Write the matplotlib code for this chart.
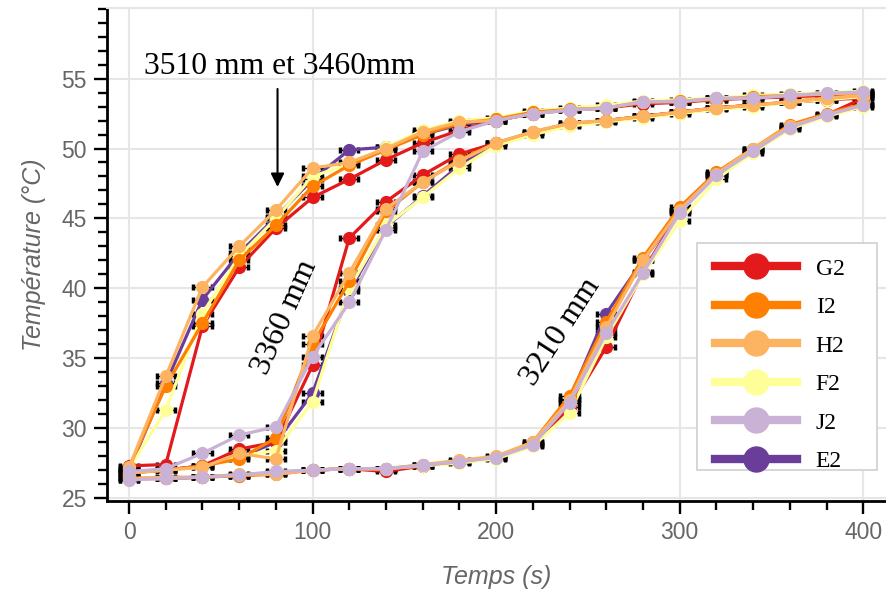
import matplotlib
matplotlib.use("Agg")
import matplotlib.pyplot as plt
from matplotlib.lines import Line2D
from matplotlib.patches import Rectangle
from matplotlib.ticker import MultipleLocator

# ---------------- data ----------------
time_s = [0, 20, 40, 60, 80, 100, 120, 140, 160, 180, 200,
          220, 240, 260, 280, 300, 320, 340, 360, 380, 400]

series_names = ["G2", "I2", "H2", "F2", "J2", "E2"]
series_colors = ["#e31a1c", "#ff7f00", "#fdb462", "#ffff99", "#cab2d6", "#6a3d9a"]

# position 3510 mm / 3460 mm
g2_3510 = [27.3, 27.4, 37.3, 41.5, 44.3, 46.5, 47.8, 49.2, 50.4, 51.3, 52.0,
           52.5, 52.8, 52.9, 53.2, 53.3, 53.5, 53.6, 53.7, 53.8, 53.9]
i2_3510 = [27.2, 33.0, 37.5, 42.0, 44.5, 47.3, 48.8, 49.9, 51.0, 51.8, 52.1,
           52.6, 52.8, 52.9, 53.3, 53.4, 53.5, 53.7, 53.8, 53.9, 54.0]
h2_3510 = [27.2, 33.7, 40.1, 43.0, 45.6, 48.6, 49.0, 50.0, 51.2, 51.9, 52.0,
           52.5, 52.75, 52.9, 53.35, 53.35, 53.6, 53.6, 53.8, 53.9, 54.0]
f2_3510 = [27.1, 31.3, 38.2, 42.3, 45.0, 48.0, 48.9, 50.1, 51.3, 52.0, 52.2,
           52.7, 52.9, 53.1, 53.4, 53.5, 53.6, 53.8, 53.9, 54.0, 54.1]
e2_3510 = [27.0, 33.2, 39.2, 42.5, 45.1, 47.8, 49.9, 50.1, 51.0, 51.7, 52.0,
           52.5, 52.75, 52.9, 53.3, 53.35, 53.6, 53.6, 53.8, 53.9, 54.0]

# position 3360 mm
g2_3360 = [26.9, 27.0, 27.3, 28.5, 29.0, 34.5, 43.6, 46.2, 48.1, 49.6, 50.4,
           51.1, 51.7, 52.0, 52.3, 52.6, 52.9, 53.1, 53.3, 53.5, 53.6]
i2_3360 = [26.8, 27.0, 27.3, 27.8, 29.3, 36.0, 40.5, 45.5, 47.6, 49.2, 50.4,
           51.2, 51.8, 52.0, 52.3, 52.6, 52.9, 53.1, 53.35, 53.6, 53.8]
h2_3360 = [26.8, 27.0, 27.2, 28.2, 27.8, 36.6, 41.1, 45.7, 47.6, 49.1, 50.4,
           51.2, 51.8, 52.0, 52.3, 52.6, 52.9, 53.1, 53.35, 53.6, 53.8]
f2_3360 = [26.8, 27.0, 27.2, 28.0, 28.4, 31.9, 40.0, 44.5, 46.5, 48.6, 50.2,
           51.0, 51.6, 51.9, 52.2, 52.5, 52.8, 53.0, 53.3, 53.5, 53.7]
j2_3360 = [26.9, 27.1, 28.2, 29.5, 30.1, 35.1, 39.0, 44.2, 49.8, 51.2, 52.0,
           52.5, 52.75, 52.9, 53.35, 53.35, 53.6, 53.6, 53.8, 53.95, 54.05]
e2_3360 = [26.8, 27.0, 27.3, 27.9, 29.0, 32.5, 39.8, 44.4, 46.6, 48.8, 50.3,
           51.1, 51.7, 52.0, 52.3, 52.6, 52.9, 53.1, 53.3, 53.5, 53.7]

# position 3210 mm
g2_3210 = [26.4, 26.4, 26.5, 26.65, 26.8, 27.0, 27.1, 26.9, 27.3, 27.6, 27.9,
           28.8, 31.5, 35.8, 41.2, 45.5, 48.1, 49.9, 51.5, 52.4, 53.6]
i2_3210 = [26.4, 26.4, 26.5, 26.6, 26.7, 27.0, 27.1, 27.1, 27.35, 27.6, 27.95,
           29.0, 32.3, 37.6, 42.2, 45.8, 48.3, 50.0, 51.7, 52.5, 53.2]
h2_3210 = [26.4, 26.5, 26.5, 26.7, 26.7, 27.0, 27.1, 27.1, 27.4, 27.7, 28.0,
           29.0, 32.0, 37.2, 42.0, 45.6, 48.2, 50.0, 51.6, 52.4, 53.1]
f2_3210 = [26.3, 26.4, 26.5, 26.6, 26.8, 27.0, 27.1, 27.1, 27.3, 27.5, 27.8,
           28.7, 31.1, 36.5, 41.0, 44.8, 47.8, 49.7, 51.4, 52.3, 53.0]
j2_3210 = [26.3, 26.4, 26.5, 26.65, 26.9, 27.0, 27.1, 27.1, 27.35, 27.6, 27.9,
           28.8, 31.8, 36.8, 41.1, 45.4, 48.1, 49.8, 51.5, 52.4, 53.1]
e2_3210 = [26.4, 26.4, 26.5, 26.6, 26.8, 27.0, 27.1, 27.1, 27.3, 27.6, 27.9,
           28.9, 32.1, 38.2, 42.0, 45.5, 48.2, 49.9, 51.6, 52.4, 53.1]

time_err = 5.0

curves = {
    "G2": [g2_3210, g2_3360, g2_3510],
    "I2": [i2_3210, i2_3360, i2_3510],
    "H2": [h2_3210, h2_3360, h2_3510],
    "F2": [f2_3210, f2_3360, f2_3510],
    "E2": [e2_3210, e2_3360, e2_3510],
    "J2": [j2_3210, j2_3360],
}
draw_order = ["E2", "G2", "F2", "I2", "H2", "J2"]
color_of = dict(zip(series_names, series_colors))

# ---------------- figure ----------------
W, H = 886, 599
fig = plt.figure(figsize=(W / 100, H / 100), dpi=100)
ax = fig.add_axes([107 / W, 98 / H, 779 / W, 493 / H])

for name in draw_order:
    for ys in curves[name]:
        ax.errorbar(time_s, ys, xerr=time_err, fmt="none", ecolor="black",
                    elinewidth=1.0, capsize=2.5, capthick=2.5, zorder=1)
for z, name in enumerate(draw_order):
    for ys in curves[name]:
        ax.plot(time_s, ys, color=color_of[name], lw=2.3, marker="o", ms=8.5,
                zorder=3 + z)

ax.set_xlim(-12, 412.4)
ax.set_ylim(24.79, 60.05)
ax.xaxis.set_major_locator(MultipleLocator(100))
ax.xaxis.set_minor_locator(MultipleLocator(20))
ax.set_yticks([25, 30, 35, 40, 45, 50, 55])
ax.yaxis.set_minor_locator(MultipleLocator(1))

ax.grid(True, which="major", color="#e6e6e6", lw=1.5, zorder=0)
ax.set_axisbelow(True)
ax.spines["right"].set_visible(False)
ax.spines["top"].set_color("#e6e6e6")
ax.spines["top"].set_linewidth(1.5)
for s in ["left", "bottom"]:
    ax.spines[s].set_linewidth(2.0)
    ax.spines[s].set_color("black")

ax.tick_params(which="major", direction="out", length=9.5, width=1.7,
               color="black", labelsize=16.5, labelcolor="#666666", pad=5)
ax.tick_params(which="minor", direction="out", length=6.5, width=1.7, color="black")
for lab in ax.get_xticklabels() + ax.get_yticklabels():
    lab.set_fontfamily("Liberation Sans")

ax.set_xlabel("Temps (s)", fontsize=18, color="#666666", style="italic",
              family="Liberation Sans", labelpad=15)
ax.set_ylabel("Température (°C)", fontsize=18, color="#666666", style="italic",
              family="Liberation Sans", labelpad=11)

# annotations
serif = "Liberation Serif"
ax.text(82.2, 55.33, "3510 mm et 3460mm", fontsize=22.8, family=serif,
        ha="center", va="baseline", color="black", zorder=20)
ax.annotate("", xy=(80.9, 47.25), xytext=(80.9, 54.26),
            arrowprops=dict(arrowstyle="-|>", color="black", lw=1.5,
                            mutation_scale=20, shrinkA=0, shrinkB=0), zorder=20)
ax.text(85.0, 37.9, "3360 mm", fontsize=23, family=serif, rotation=66,
        ha="center", va="center", rotation_mode="anchor", zorder=20)
ax.text(235.5, 36.9, "3210 mm", fontsize=23, family=serif, rotation=57,
        ha="center", va="center", rotation_mode="anchor", zorder=20)

# legend
frame = Rectangle((697 / W, 1 - 470 / H), 180 / W, 227 / H, transform=fig.transFigure,
                  facecolor="white", edgecolor="#d0d0d0", lw=1.2, zorder=30)
fig.patches.append(frame)
handles = [Line2D([], [], color=color_of[n], lw=6, marker="o", ms=18)
           for n in series_names]
leg = fig.legend(handles, series_names, loc="upper left",
                 bbox_to_anchor=(715 / W, 1 - 258 / H), frameon=False,
                 prop={"family": serif, "size": 17}, handlelength=3.47,
                 handletextpad=0.8, labelspacing=0.72, borderpad=0,
                 borderaxespad=0)
leg.set_zorder(31)

fig.savefig("out.png", dpi=100)
